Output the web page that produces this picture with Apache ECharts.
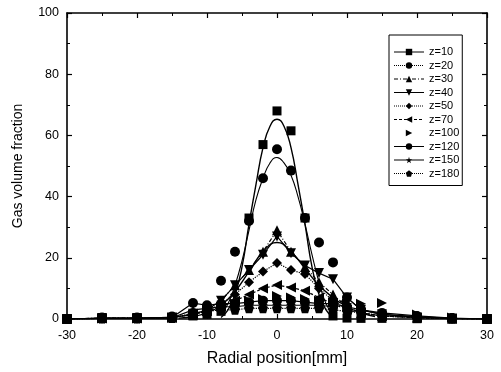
<!DOCTYPE html>
<html>
<head>
<meta charset="utf-8">
<script src="https://cdn.jsdelivr.net/npm/echarts@6/dist/echarts.min.js"></script>
<style>
  html, body { margin: 0; padding: 0; background: #fff; }
  #chart { width: 501px; height: 372px; }
</style>
</head>
<body>
<div id="chart"></div>
<script>
// radial positions (mm) where each z was measured
const radial = [-30, -25, -20, -15, -12, -10, -8, -6, -4, -2, 0, 2, 4, 6, 8, 10, 12, 15, 20, 25, 30]

// gas volume fraction per axial position z
const z10  = [0, 0.3, 0.3, 0.5, 1, 1.5, 2.5, 5, 33, 57, 68, 61.5, 33, 5, 1, 0.3, 0.2, 0.2, 0.1, 0, 0]
const z20  = [0, 0.5, 0.5, 0.8, 2, 4, 12.5, 22, 32, 46, 55.5, 48.5, 33, 25, 18.5, 7, 3, 1.5, 0.8, 0.3, 0]
const z30  = [0, 0.3, 0.3, 0.5, 1.5, 3, 6, 11, 16, 22, 29, 22, 17, 12, 8, 4, 2, 1, 0.5, 0.2, 0]
const z40  = [0, 0.3, 0.3, 0.5, 1.5, 3, 6, 11, 16, 21, 27, 21.5, 17.5, 15, 13, 7, 3, 1.5, 0.5, 0.2, 0]
const z50  = [0, 0.2, 0.2, 0.5, 1.5, 2.5, 5, 8, 12, 15.5, 18.3, 16, 14.7, 10, 6, 3, 2, 1, 0.4, 0.1, 0]
const z70  = [0, 0.2, 0.2, 0.4, 1.5, 2.5, 4, 6, 8, 10, 11.1, 10.3, 9.2, 7, 5, 3, 2, 1, 0.4, 0.1, 0]
const z100 = [0, 0.2, 0.2, 0.4, 1.5, 2.5, 4, 5, 6, 6.5, 7.5, 7, 6.5, 6, 5.5, 5, 5, 5.2, 1.5, 0.5, 0]
const z120 = [0, 0.3, 0.3, 0.5, 5.2, 4.5, 5, 5, 5.5, 6, 6, 6, 5.5, 5, 5, 4, 3, 2, 1, 0.3, 0]
const z150 = [0, 0.2, 0.2, 0.4, 3, 3.5, 4, 4, 4.5, 4.5, 4.5, 4.5, 4.5, 4.5, 4, 7, 3, 1.5, 0.8, 0.2, 0]
const z180 = [0, 0.2, 0.2, 0.3, 2, 2.5, 3, 3, 3.5, 3.5, 3.5, 3.5, 3.5, 3.5, 3, 2.5, 2, 1, 0.5, 0.2, 0]

// fitted curves
const fitX   = [-8, -7, -6, -5, -4, -3, -2, -1, 0, 1, 2, 3, 4, 5, 6, 7, 8]
const fit10  = [0.5, 3, 8, 17, 31, 44, 56, 63, 65.3, 63, 56, 44, 31, 17, 8, 3, 0.5]
const fit20  = [1.5, 5, 11, 19, 29, 39, 46, 51, 52.8, 51, 47, 40, 31, 21, 12, 5, 1.5]
const fit30X = [-14, -12, -10, -8, -6, -4, -2, 0, 2, 4, 6, 8, 10, 12, 14]
const fit30  = [0.3, 0.8, 2, 4.5, 9, 15.5, 22, 25, 22, 16.5, 11, 7, 4, 2, 0.8]

const STAR = 'path://M50,0 L61,35 L98,35 L68,57 L79,91 L50,70 L21,91 L32,57 L2,35 L39,35 Z'
const PENT = 'path://M50,0 L98,36 L80,95 L20,95 L2,36 Z'

// name, values, symbol, rotate, line type, line visible on plot
const seriesDefs = [
  ['z=10',  z10,  'rect',     0,   'solid',  false],
  ['z=20',  z20,  'circle',   0,   'dotted', false],
  ['z=30',  z30,  'triangle', 0,   [4, 2, 1, 2], true],
  ['z=40',  z40,  'triangle', 180, 'solid',  true],
  ['z=50',  z50,  'diamond',  0,   'dotted', true],
  ['z=70',  z70,  'triangle', 90,  [3, 2],   true],
  ['z=100', z100, 'triangle', -90, 'solid',  false],
  ['z=120', z120, 'circle',   0,   'solid',  true],
  ['z=150', z150, STAR,       0,   'solid',  true],
  ['z=180', z180, PENT,       0,   'dotted', true]
]

const pairs = (xs, ys) => xs.map((x, i) => [x, ys[i]])

const chart = echarts.init(document.getElementById('chart'))
const FONT = "'Liberation Sans', Arial, sans-serif"

const series = seriesDefs.map(([name, vals, sym, rot, type, visible]) => ({
  name,
  type: 'line',
  data: pairs(radial, vals),
  symbol: sym,
  symbolRotate: rot,
  symbolSize: sym === 'rect' ? 9 : 10,
  showAllSymbol: true,
  itemStyle: { color: '#000' },
  lineStyle: { color: '#000', width: 1.2, type, opacity: visible ? 1 : 0 },
  z: 3
}))

const fitLine = (xs, ys, width) => ({
  type: 'line',
  data: pairs(xs, ys),
  smooth: 0.5,
  showSymbol: false,
  silent: true,
  lineStyle: { color: '#000', width },
  z: 2
})
series.push(fitLine(fitX, fit10, 1.4), fitLine(fitX, fit20, 1.1), fitLine(fit30X, fit30, 1.4))

const legendData = seriesDefs.map(([name, , , , type]) => ({
  name,
  lineStyle: name === 'z=100' ? { opacity: 0 } : { opacity: 1, type, width: 1, color: '#000' }
}))

const axisCommon = {
  axisLine: { onZero: false, lineStyle: { color: '#000', width: 1.6 } },
  axisTick: { inside: true, length: 5, lineStyle: { color: '#000', width: 1.2 } },
  minorTick: { show: true, splitNumber: 2, length: 3, lineStyle: { color: '#000', width: 1 } },
  splitLine: { show: false }
}

chart.setOption({
  animation: false,
  backgroundColor: '#fff',
  grid: { left: 67, right: 14, top: 13, bottom: 51 },
  legend: {
    data: legendData,
    orient: 'vertical',
    left: 389,
    top: 35,
    padding: [11, 3, 6, 4],
    itemWidth: 30,
    itemHeight: 8,
    itemGap: 1.5,
    borderColor: '#000',
    borderWidth: 1,
    textStyle: { fontFamily: FONT, fontSize: 11, color: '#000', lineHeight: 12 }
  },
  xAxis: [
    {
      type: 'value', min: -30, max: 30, interval: 10,
      name: 'Radial position[mm]', nameLocation: 'middle', nameGap: 32,
      nameTextStyle: { fontFamily: FONT, fontSize: 16, color: '#000' },
      axisLabel: { fontFamily: FONT, fontSize: 12.5, color: '#000', margin: 10 },
      ...axisCommon
    },
    {
      type: 'value', min: -30, max: 30, interval: 10, position: 'top',
      axisLabel: { show: false },
      ...axisCommon
    }
  ],
  yAxis: [
    {
      type: 'value', min: 0, max: 100, interval: 20,
      name: 'Gas volume fraction', nameLocation: 'middle', nameGap: 42,
      nameTextStyle: { fontFamily: FONT, fontSize: 14, color: '#000' },
      axisLabel: { fontFamily: FONT, fontSize: 12.5, color: '#000', margin: 8 },
      ...axisCommon
    },
    {
      type: 'value', min: 0, max: 100, interval: 20, position: 'right',
      axisLabel: { show: false },
      ...axisCommon
    }
  ],
  series
})
</script>
</body>
</html>
